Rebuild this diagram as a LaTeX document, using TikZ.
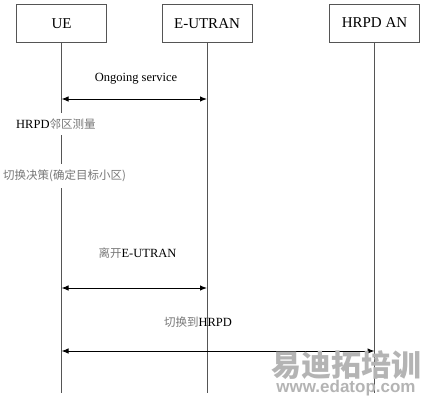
\documentclass[tikz,border=0pt]{standalone}
\usepackage{fontspec}
\setmainfont{Liberation Serif}
\newfontfamily\cjk{Noto Sans CJK SC}
\newfontfamily\wmsans{Liberation Sans}
\usetikzlibrary{arrows.meta}
\definecolor{linegray}{HTML}{555555}
\definecolor{cjkgray}{HTML}{777777}
\definecolor{wmgray}{HTML}{B4B4B4}
\tikzset{
  actor/.style={draw=linegray, line width=0.9pt, fill=white, minimum width=90pt, minimum height=38pt, inner sep=0pt, font=\fontsize{15}{17}\selectfont},
  lifeline/.style={draw=linegray, line width=0.9pt},
  msg/.style={line width=1pt, {Latex[length=7pt,width=5.5pt]}-{Latex[length=7pt,width=5.5pt]}},
  lbl/.style={font=\fontsize{12.5}{14}\selectfont, inner sep=1pt},
  note/.style={font=\fontsize{12.5}{14}\selectfont, fill=white, inner xsep=1pt, inner ysep=6pt, anchor=west},
  wm/.style={text=wmgray, inner sep=0pt}
}
\newcommand{\zh}[1]{{\cjk\color{cjkgray}\fontsize{11.5}{14}\selectfont #1}}
\begin{document}
\begin{tikzpicture}[x=1pt,y=-1pt]
\useasboundingbox (0,0) rectangle (425,400);
% actors
\node[actor] (UE) at (61.5,23.5) {UE};
\node[actor] (EU) at (207,23.5) {E-UTRAN};
\node[actor] (HA) at (374.5,23) {HRPD AN};
% lifeline ends
\coordinate (UEend) at (61.5,393);
\coordinate (EUend) at (207,393);
\coordinate (HAend) at (374.5,393);
\draw[lifeline] (UE.south) -- (UEend);
\draw[lifeline] (EU.south) -- (EUend);
\draw[lifeline] (HA.south) -- (HAend);
% message rows
\coordinate (m1) at (0,99);
\coordinate (m2) at (0,288);
\coordinate (m3) at (0,351);
% message 1
\node[lbl] (l1) at (136,79) {Ongoing service};
\draw[msg] (UE |- m1) -- (EU |- m1);
% notes on UE lifeline
\node[note] (n1) at (15,124) {HRPD\zh{邻区测量}};
\node[note] (n2) at (2,176) {\zh{切换决策(确定目标小区)}};
% message 2
\node[lbl] (l2) at (137.5,253) {\zh{离开}E-UTRAN};
\draw[msg] (UE |- m2) -- (EU |- m2);
% message 3
\node[lbl] (l3) at (198,322) {\zh{切换到}HRPD};
\draw[msg] (UE |- m3) -- (HA |- m3);
% watermark
\node[wm, font={\cjk\bfseries\fontsize{30}{30}\selectfont}] (wm1) at (346,365) {易迪拓培训};
\node[wm, font={\wmsans\bfseries\fontsize{17}{17}\selectfont}] (wm2) at (346,388) {www.edatop.com};
\end{tikzpicture}
\end{document}
